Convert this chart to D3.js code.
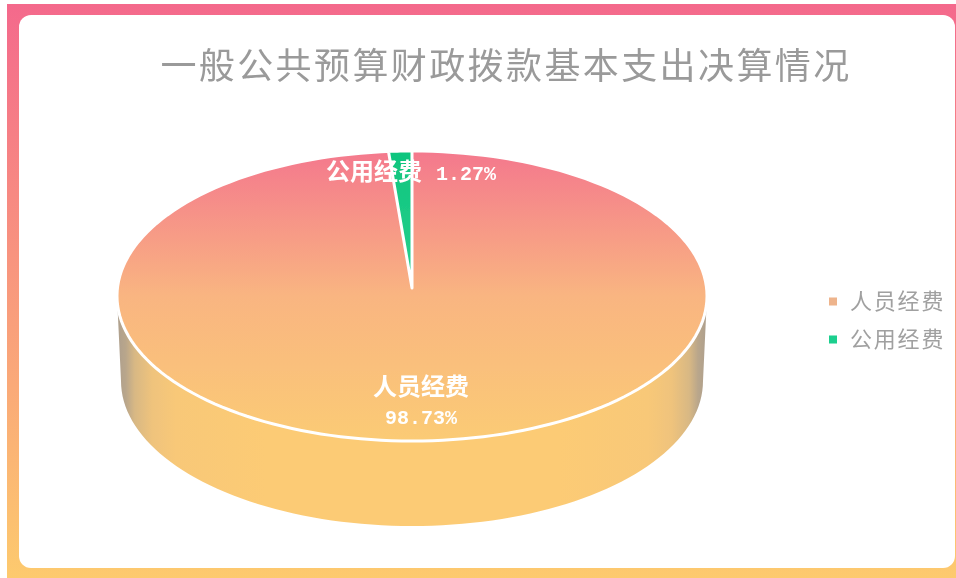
<!DOCTYPE html>
<html><head><meta charset="utf-8">
<script src="https://cdn.jsdelivr.net/npm/d3@7"></script>
<style>html,body{margin:0;padding:0;background:#fff;overflow:hidden}svg{display:block}
text{font-family:"Noto Sans CJK SC","Noto Sans",sans-serif}</style></head>
<body><svg id="c" width="956" height="578"></svg>
<script>
const categories = ["人员经费","公用经费"];
const values = [98.73,1.27];
const titleText = "一般公共预算财政拨款基本支出决算情况";
const legendColors = ["#eeb48c","#1ccf8e"];
const W=956,H=578;
const cx=412,cy=296,rx=295,ry=145,depth=85,apexLift=8,bottomInset=4;
const svg=d3.select("#c");
const defs=svg.append("defs");
function grad(id,x1,y1,x2,y2,stops,user){
  const g=defs.append("linearGradient").attr("id",id).attr("x1",x1).attr("y1",y1).attr("x2",x2).attr("y2",y2);
  if(user) g.attr("gradientUnits","userSpaceOnUse");
  stops.forEach(s=>g.append("stop").attr("offset",s[0]).attr("stop-color",s[1]));
}
grad("bg",0,0,0,1,[[0,"#f4698c"],[1,"#fdca6e"]]);
grad("topG",0,cy-ry,0,cy+ry,[[0,"#f4788d"],[.5,"#f9b581"],[1,"#fbcb75"]],true);
grad("greenG",0,0,0,1,[[0,"#0fc57e"],[1,"#28d08e"]]);
grad("wall",0,0,1,0,[[0,"#ad9f8e"],[.015,"#b9a68b"],[.03,"#d8b884"],[.06,"#efc37c"],[.1,"#f8c878"],[.25,"#fccb75"],[.75,"#fccb75"],[.9,"#f8c878"],[.94,"#efc37c"],[.97,"#d8b884"],[.985,"#b9a68b"],[1,"#ad9f8e"]]);
defs.append("filter").attr("id","soft").attr("x",-.02).attr("y",-.02).attr("width",1.04).attr("height",1.04).append("feGaussianBlur").attr("stdDeviation",0.6);
defs.append("filter").attr("id","softer").append("feGaussianBlur").attr("stdDeviation",0.45);

// frame
svg.append("rect").attr("x",7).attr("y",4).attr("width",W-7).attr("height",H-4).attr("fill","url(#bg)");
svg.append("rect").attr("x",19).attr("y",15).attr("width",W-19-1).attr("height",553).attr("rx",12).attr("fill","#fff");

// title
svg.append("text").attr("x",506).attr("y",79).attr("text-anchor","middle")
  .attr("font-size",36).attr("letter-spacing",2.4).attr("fill","#9a9a9a").attr("filter","url(#softer)").text(titleText);

const pie=d3.pie().sort(null).value(d=>d);
const arcs=pie(values);
const sx=d3.scaleLinear().domain([-1,1]).range([cx-rx,cx+rx]);
const sxb=d3.scaleLinear().domain([-1,1]).range([cx-rx+bottomInset,cx+rx-bottomInset]);
const sy=d3.scaleLinear().domain([-1,1]).range([cy-ry,cy+ry]);
const pieG=svg.append("g").attr("filter","url(#soft)");

// wall
const angles=d3.range(-90,90.5,2).map(a=>a*Math.PI/180);
const wallPts=angles.map(a=>[sxb(Math.sin(a)),sy(Math.cos(a))+depth]);
const rimPts=angles.slice().reverse().map(a=>[sx(Math.sin(a)),sy(Math.cos(a))]);
pieG.append("path").attr("d",d3.line()(wallPts.concat(rimPts))+"Z").attr("fill","url(#wall)");

// top: the whole disc, then the small slice with its apex lifted for the perspective
const ringAngles=d3.range(0,360.5,2).map(a=>a*Math.PI/180);
pieG.append("path").attr("d",d3.line()(ringAngles.map(a=>[sx(Math.sin(a)),sy(-Math.cos(a))]))+"Z")
  .attr("fill","url(#topG)").attr("stroke","#fff").attr("stroke-width",3);
const s=arcs[1];
const sliceAngles=d3.range(s.startAngle,s.endAngle,(s.endAngle-s.startAngle)/8).concat([s.endAngle]);
const slicePts=[[cx,cy-apexLift]].concat(sliceAngles.map(a=>[sx(Math.sin(a)),sy(-Math.cos(a))]));
pieG.append("path").attr("d",d3.line()(slicePts)+"Z").attr("fill","url(#greenG)")
  .attr("stroke","#fff").attr("stroke-width",3).attr("stroke-linejoin","round");

// labels
const labelG=svg.append("g").attr("fill","#fff").attr("font-weight",700).attr("text-anchor","middle").attr("filter","url(#softer)");
const mono='"Liberation Mono",monospace';
labelG.append("text").attr("x",421).attr("y",395).attr("font-size",24).text(categories[0]);
labelG.append("text").attr("x",421).attr("y",424).attr("font-size",20).style("font-family",mono).text(values[0]+"%");
const l2=labelG.append("text").attr("x",411).attr("y",180).attr("font-size",24);
l2.append("tspan").text(categories[1]);
l2.append("tspan").attr("dx",14).attr("font-size",20).style("font-family",mono).text(values[1]+"%");

// legend
const lg=svg.append("g").attr("filter","url(#softer)");
const ly=d3.scalePoint().domain(categories).range([301,339]);
categories.forEach((c,i)=>{
  lg.append("rect").attr("x",829).attr("y",ly(c)-3.5).attr("width",8).attr("height",8).attr("fill",legendColors[i]);
  lg.append("text").attr("x",850).attr("y",ly(c)+8).attr("font-size",22).attr("letter-spacing",1.8).attr("fill","#a0a0a0").text(c);
});
</script></body></html>
